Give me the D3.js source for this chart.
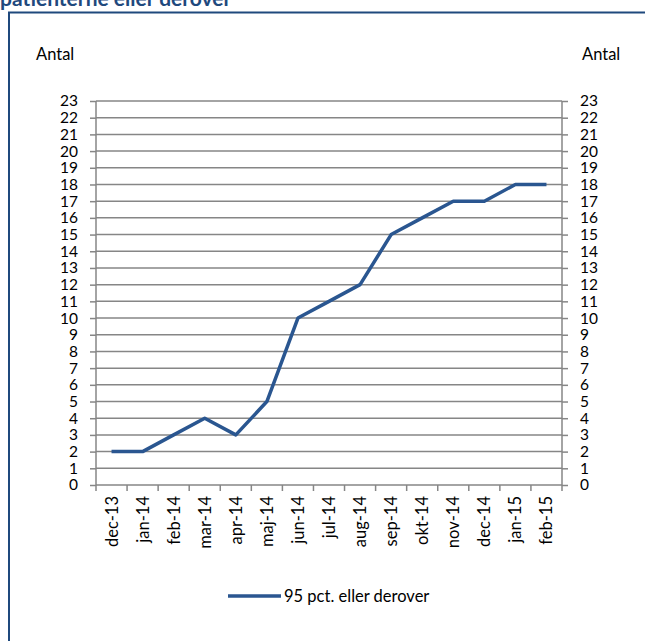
<!DOCTYPE html>
<html><head><meta charset="utf-8">
<script src="https://cdn.jsdelivr.net/npm/d3@7"></script>
<style>body{margin:0;background:#fff;} svg{display:block;}</style>
</head><body>
<svg id="c" width="645" height="641"></svg>
<script>
const categories = ["dec-13","jan-14","feb-14","mar-14","apr-14","maj-14","jun-14","jul-14","aug-14","sep-14","okt-14","nov-14","dec-14","jan-15","feb-15"];
const values = [2,2,3,4,3,5,10,11,12,15,16,17,17,18,18];
const yTicks = d3.range(0,24);
const seriesName = "95 pct. eller derover";
const titleText = "patienterne eller derover";
const axisTitle = "Antal";

const font = "Lato, 'Open Sans', sans-serif";
const fs = 16.5;
const fsY = 15.5;
const svg = d3.select("#c");
const m = {l:96, r:562, t:101, b:485};
const x = d3.scaleBand().domain(categories).range([m.l, m.r]);
const y = d3.scaleLinear().domain([0,23]).range([m.b, m.t]);

// title (clipped at top as in the source)
svg.append("text").attr("x",0).attr("y",6).attr("font-family",font).attr("font-weight","bold")
  .attr("font-size",21).attr("fill","#1F497D").text(titleText);
// border
svg.append("rect").attr("x",9).attr("y",12.5).attr("width",700).attr("height",700)
  .attr("fill","none").attr("stroke","#1F497D").attr("stroke-width",2);

const gridColor = "#868686";
svg.append("g").selectAll("line").data(yTicks.filter(d=>d>0)).join("line")
  .attr("x1",m.l).attr("x2",m.r).attr("y1",d=>y(d)).attr("y2",d=>y(d))
  .attr("stroke",gridColor).attr("stroke-width",1.5);

const yl = d3.axisLeft(y).tickValues(yTicks).tickSize(6).tickPadding(12).tickFormat(d3.format("d"));
const yr = d3.axisRight(y).tickValues(yTicks).tickSize(6).tickPadding(12).tickFormat(d3.format("d"));
function style(g){
  g.select(".domain").attr("stroke",gridColor).attr("stroke-width",1.5);
  g.selectAll(".tick line").attr("stroke",gridColor).attr("stroke-width",1.5);
  g.selectAll("text").attr("font-family",font).attr("font-size",fsY).attr("fill","#000");
}
svg.append("g").attr("transform",`translate(${m.l},0)`).call(yl).call(g=>{style(g);g.select(".domain").attr("d",`M0,${m.t}V${m.b}`);});
svg.append("g").attr("transform",`translate(${m.r},0)`).call(yr).call(g=>{style(g);g.select(".domain").attr("d",`M0,${m.t}V${m.b}`);});
const xg = svg.append("g").attr("transform",`translate(0,${m.b})`);
xg.append("path").attr("d",`M${m.l},0H${m.r}`).attr("stroke",gridColor).attr("stroke-width",1.5);
const bounds = categories.map(c=>x(c)).concat([m.r]);
xg.selectAll(".btick").data(bounds).join("line").attr("class","btick")
  .attr("x1",d=>d).attr("x2",d=>d).attr("y1",0).attr("y2",6)
  .attr("stroke",gridColor).attr("stroke-width",1.5);
xg.selectAll(".xl").data(categories).join("text").attr("class","xl")
  .attr("transform",d=>`translate(${x(d)+x.bandwidth()/2+6},11) rotate(-90)`)
  .attr("text-anchor","end").attr("font-family",font).attr("font-size",fs).attr("fill","#000").text(d=>d);

svg.append("text").attr("x",36).attr("y",60).attr("font-family",font).attr("font-size",fs).text(axisTitle);
svg.append("text").attr("x",582).attr("y",60).attr("font-family",font).attr("font-size",fs).text(axisTitle);

const line = d3.line().x((d,i)=>x(categories[i])+x.bandwidth()/2).y(d=>y(d));
svg.append("path").datum(values).attr("d",line).attr("fill","none")
  .attr("stroke","#2A5690").attr("stroke-width",3.5).attr("stroke-linejoin","round");

svg.append("line").attr("x1",228).attr("x2",281).attr("y1",596).attr("y2",596)
  .attr("stroke","#2A5690").attr("stroke-width",3.5);
svg.append("text").attr("x",284).attr("y",602).attr("font-family",font).attr("font-size",fs).text(seriesName);
</script>
</body></html>
